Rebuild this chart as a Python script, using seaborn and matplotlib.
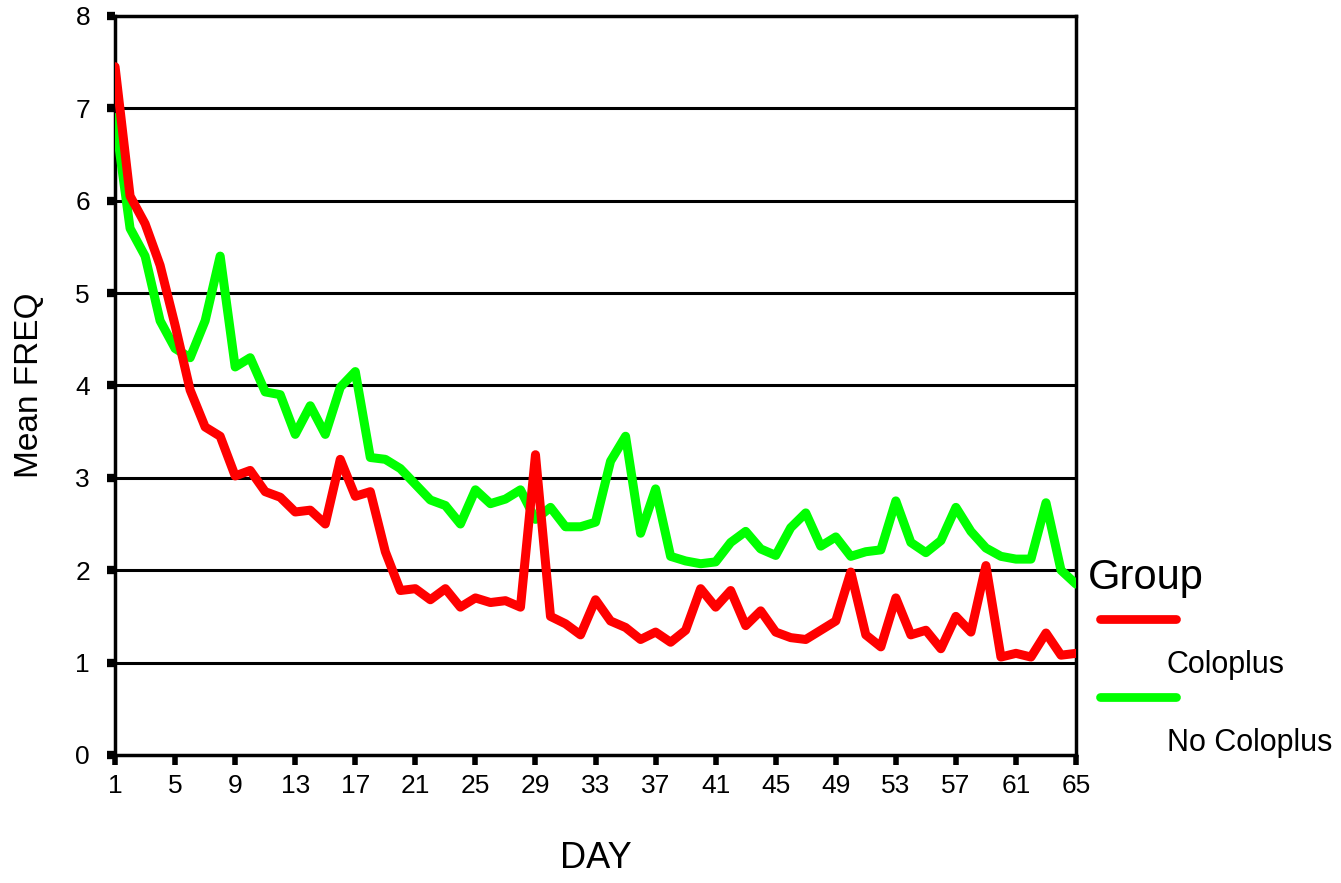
import numpy as np
import pandas as pd
import matplotlib
matplotlib.use("Agg")
import matplotlib.pyplot as plt
from matplotlib.lines import Line2D
import seaborn as sns

sns.set_style("white")
plt.rcParams['font.family'] = ['Liberation Sans', 'DejaVu Sans']
plt.rcParams['text.color'] = 'black'
plt.rcParams['axes.labelcolor'] = 'black'
plt.rcParams['xtick.color'] = 'black'
plt.rcParams['ytick.color'] = 'black'

days = list(range(1, 66))

coloplus = [7.45, 6.05, 5.75, 5.30, 4.65, 3.95, 3.55, 3.45, 3.02, 3.08,
            2.85, 2.79, 2.63, 2.65, 2.50, 3.20, 2.80, 2.85, 2.20, 1.78,
            1.80, 1.68, 1.80, 1.60, 1.70, 1.65, 1.67, 1.60, 3.25, 1.50,
            1.42, 1.30, 1.68, 1.45, 1.38, 1.25, 1.33, 1.22, 1.35, 1.80,
            1.60, 1.78, 1.40, 1.56, 1.33, 1.27, 1.25, 1.35, 1.45, 1.98,
            1.30, 1.17, 1.70, 1.30, 1.35, 1.15, 1.50, 1.33, 2.05, 1.06,
            1.10, 1.06, 1.32, 1.08, 1.10]

no_coloplus = [6.90, 5.70, 5.40, 4.70, 4.40, 4.30, 4.70, 5.40, 4.20, 4.30,
               3.93, 3.90, 3.47, 3.78, 3.47, 3.98, 4.15, 3.22, 3.20, 3.10,
               2.93, 2.76, 2.70, 2.50, 2.87, 2.72, 2.77, 2.87, 2.55, 2.68,
               2.47, 2.47, 2.52, 3.18, 3.45, 2.40, 2.88, 2.15, 2.10, 2.07,
               2.09, 2.30, 2.42, 2.23, 2.16, 2.46, 2.62, 2.26, 2.36, 2.15,
               2.20, 2.22, 2.75, 2.30, 2.19, 2.32, 2.68, 2.42, 2.24, 2.15,
               2.12, 2.12, 2.73, 2.00, 1.85]

groups = ["Coloplus", "No Coloplus"]
colors = {"Coloplus": "#ff0000", "No Coloplus": "#00ff00"}

df = pd.DataFrame({
    "DAY": days * 2,
    "FREQ": coloplus + no_coloplus,
    "Group": ["Coloplus"] * len(days) + ["No Coloplus"] * len(days),
})

fig = plt.figure(figsize=(13.41, 8.83), dpi=100)
ax = fig.add_axes([0.0858, 0.145, 0.7166, 0.837])

for y in range(1, 8):
    ax.axhline(y, color="black", lw=2.2, zorder=1)

# green first so red sits on top, as in the original
sns.lineplot(data=df, x="DAY", y="FREQ", hue="Group", palette=colors,
             hue_order=["No Coloplus", "Coloplus"], lw=6.5, ax=ax,
             legend=False, zorder=3)

ax.set_xlim(1, 65)
ax.set_ylim(0, 8)
ax.set_xticks(range(1, 66, 4))
ax.set_yticks(range(0, 9))

tick_font = {"family": ["Liberation Sans Narrow", "Liberation Sans"], "size": 19}
ax.set_xticklabels([str(d) for d in range(1, 66, 4)], fontdict=tick_font)
ax.set_yticklabels([str(v) for v in range(0, 9)], fontdict=tick_font)
ax.tick_params(axis="x", direction="out", length=7, width=4, color="black", pad=7)
ax.tick_params(axis="y", direction="out", length=6, width=6, color="black", pad=12)
ax.tick_params(bottom=True, left=True)

for side in ["left", "right", "top", "bottom"]:
    ax.spines[side].set_visible(True)
    ax.spines[side].set_color("black")
    ax.spines[side].set_linewidth(2.5)

ax.set_xlabel("DAY", fontsize=26, labelpad=31)
ax.set_ylabel("Mean FREQ", fontsize=24, labelpad=22)

# legend at the right, label text sitting below each swatch
fig.text(0.811, 0.345, "Group", fontsize=30, va="center", ha="left")
for i, g in enumerate(groups):
    yh = 0.299 - i * 0.088
    fig.add_artist(Line2D([0.820, 0.877], [yh, yh], color=colors[g], lw=6.3,
                          transform=fig.transFigure))
    fig.text(0.870, yh - 0.052, g, fontsize=22, va="center", ha="left")

fig.savefig("out.png", dpi=100)
